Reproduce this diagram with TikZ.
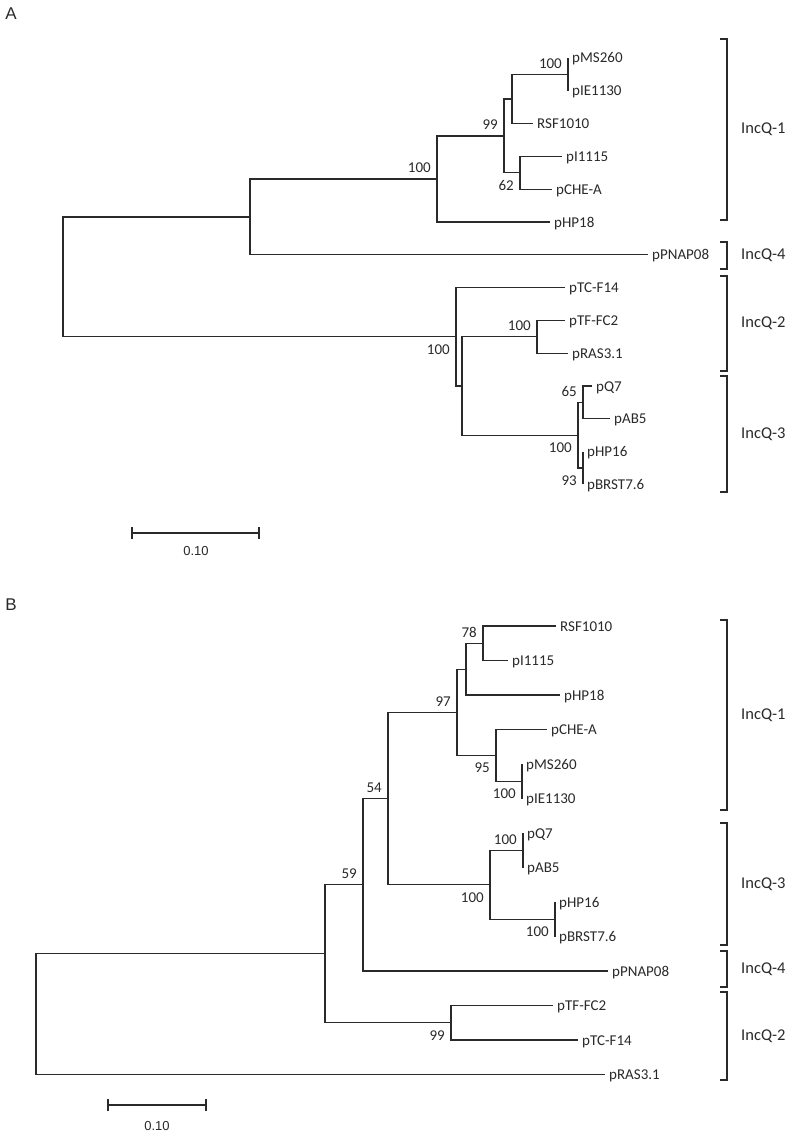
\documentclass[tikz,border=0pt]{standalone}
\usepackage{fontspec}
\setmainfont{Carlito}
\newfontfamily\panelfont{Liberation Sans}
\definecolor{ink}{HTML}{2A2A2A}
\begin{document}
\begin{tikzpicture}[x=1pt,y=-1pt,
  br/.style={draw=ink, line width=1.2pt, line join=miter},
  leaf/.style={anchor=base west, inner sep=0pt, xshift=4pt, yshift=-5pt, text=ink, font=\fontsize{15}{18}\selectfont},
  bsa/.style={anchor=base east, inner sep=0pt, xshift=-6pt, yshift=6pt, text=ink, font=\fontsize{15}{18}\selectfont},
  bsb/.style={anchor=base east, inner sep=0pt, xshift=-6pt, yshift=-17.5pt, text=ink, font=\fontsize{15}{18}\selectfont},
  grp/.style={anchor=west, inner sep=0pt, text=ink, font=\fontsize{16.5}{19}\selectfont},
  plab/.style={inner sep=0pt, text=ink, font=\panelfont\fontsize{17}{19}\selectfont},
  sclab/.style={inner sep=0pt, text=ink, font=\panelfont\fontsize{13}{16}\selectfont}]
\useasboundingbox (0,0) rectangle (797,1148);
\fill[white] (0,0) rectangle (797,1148);

% ================= Panel A =================
\node[plab] (A) at (11,14) {A};
% tips
\coordinate (aMS) at (568,58);
\coordinate (aIE) at (568,90.8);
\coordinate (aRSF) at (533,123.6);
\coordinate (aI) at (562,156.4);
\coordinate (aCHE) at (552,189.2);
\coordinate (aHP18) at (550,222);
\coordinate (aPN) at (648,254.8);
\coordinate (aTC) at (565,287.6);
\coordinate (aTF) at (565,320.4);
\coordinate (aRAS) at (568,353.2);
\coordinate (aQ7) at (592,386);
\coordinate (aAB5) at (610,418.8);
\coordinate (aHP16) at (583,451.6);
\coordinate (aBR) at (583,484.4);
% internal nodes
\coordinate (aN1) at (568,74.4);
\coordinate (aN2) at (512,99);
\coordinate (aN3) at (520,172.8);
\coordinate (aN4) at (504,135.9);
\coordinate (aN5) at (437,178.95);
\coordinate (aN6) at (250,216.9);
\coordinate (aN7) at (537,336.8);
\coordinate (aN8) at (583,402.4);
\coordinate (aN9) at (583,468);
\coordinate (aN10) at (578,435.2);
\coordinate (aN11) at (462,386);
\coordinate (aN12) at (456,336.8);
\coordinate (aRoot) at (63,276.85);
% branches
\draw[br] (aN1) |- (aMS) (aN1) |- (aIE);
\draw[br] (aN2) |- (aN1) (aN2) |- (aRSF);
\draw[br] (aN3) |- (aI) (aN3) |- (aCHE);
\draw[br] (aN4) |- (aN2) (aN4) |- (aN3);
\draw[br] (aN5) |- (aN4) (aN5) |- (aHP18);
\draw[br] (aN6) |- (aN5) (aN6) |- (aPN);
\draw[br] (aN7) |- (aTF) (aN7) |- (aRAS);
\draw[br] (aN8) |- (aQ7) (aN8) |- (aAB5);
\draw[br] (aN9) |- (aHP16) (aN9) |- (aBR);
\draw[br] (aN10) |- (aN8) (aN10) |- (aN9);
\draw[br] (aN11) |- (aN7) (aN11) |- (aN10);
\draw[br] (aN12) |- (aTC) (aN12) |- (aN11);
\draw[br] (aRoot) |- (aN6) (aRoot) |- (aN12);
% leaf labels
\node[leaf] (laMS) at (aMS) {pMS260};
\node[leaf] (laIE) at (aIE) {pIE1130};
\node[leaf] (laRSF) at (aRSF) {RSF1010};
\node[leaf] (laI) at (aI) {pI1115};
\node[leaf] (laCHE) at (aCHE) {pCHE-A};
\node[leaf] (laHP18) at (aHP18) {pHP18};
\node[leaf] (laPN) at (aPN) {pPNAP08};
\node[leaf] (laTC) at (aTC) {pTC-F14};
\node[leaf] (laTF) at (aTF) {pTF-FC2};
\node[leaf] (laRAS) at (aRAS) {pRAS3.1};
\node[leaf] (laQ7) at (aQ7) {pQ7};
\node[leaf] (laAB5) at (aAB5) {pAB5};
\node[leaf] (laHP16) at (aHP16) {pHP16};
\node[leaf] (laBR) at (aBR) {pBRST7.6};
% bootstrap values
\node[bsa] (baN1) at (aN1) {100};
\node[bsa] (baN4) at (aN4) {99};
\node[bsb] (baN3) at (aN3) {62};
\node[bsa] (baN5) at (aN5) {100};
\node[bsa] (baN7) at (aN7) {100};
\node[bsb] (baN12) at (aN12) {100};
\node[bsa] (baN8) at (aN8) {65};
\node[bsb] (baN10) at (aN10) {100};
\node[bsb] (baN9) at (aN9) {93};
% group brackets
\draw[br] (720,39) -- (727,39) -- (727,220) -- (720,220);
\node[grp] (gA1) at (741,129.5) {IncQ-1};
\draw[br] (720,242) -- (727,242) -- (727,269) -- (720,269);
\node[grp] (gA4) at (741,255.5) {IncQ-4};
\draw[br] (720,276) -- (727,276) -- (727,371) -- (720,371);
\node[grp] (gA2) at (741,323.5) {IncQ-2};
\draw[br] (720,376) -- (727,376) -- (727,492) -- (720,492);
\node[grp] (gA3) at (741,434) {IncQ-3};
% scale bar
\coordinate (sa1) at (132,533);
\coordinate (sa2) at (259,533);
\draw[br] (sa1) -- (sa2);
\draw[br] ([yshift=6pt]sa1) -- ([yshift=-6pt]sa1);
\draw[br] ([yshift=6pt]sa2) -- ([yshift=-6pt]sa2);
\node[sclab] (sca) at (196,551) {0.10};

% ================= Panel B =================
\node[plab] (B) at (11,605) {B};
\coordinate (bRSF) at (556,626);
\coordinate (bI) at (508,660.5);
\coordinate (bHP18) at (560,695);
\coordinate (bCHE) at (547,729.5);
\coordinate (bMS) at (522,764);
\coordinate (bIE) at (522,798.5);
\coordinate (bQ7) at (523,833);
\coordinate (bAB5) at (523,867.5);
\coordinate (bHP16) at (555,902);
\coordinate (bBR) at (555,936.5);
\coordinate (bPN) at (608,971);
\coordinate (bTF) at (553,1005.5);
\coordinate (bTC) at (578,1040);
\coordinate (bRAS) at (605,1074.5);
\coordinate (bN1) at (483,643.25);
\coordinate (bN2) at (466,669.125);
\coordinate (bN3) at (522,781.25);
\coordinate (bN4) at (496,755.375);
\coordinate (bN5) at (457,712.25);
\coordinate (bN6) at (523,850.25);
\coordinate (bN7) at (555,919.25);
\coordinate (bN8) at (490,884.75);
\coordinate (bN9) at (388,798.5);
\coordinate (bN10) at (363,884.75);
\coordinate (bN11) at (451,1022.75);
\coordinate (bN12) at (325,953.75);
\coordinate (bRoot) at (36,1014.125);
\draw[br] (bN1) |- (bRSF) (bN1) |- (bI);
\draw[br] (bN2) |- (bN1) (bN2) |- (bHP18);
\draw[br] (bN3) |- (bMS) (bN3) |- (bIE);
\draw[br] (bN4) |- (bCHE) (bN4) |- (bN3);
\draw[br] (bN5) |- (bN2) (bN5) |- (bN4);
\draw[br] (bN6) |- (bQ7) (bN6) |- (bAB5);
\draw[br] (bN7) |- (bHP16) (bN7) |- (bBR);
\draw[br] (bN8) |- (bN6) (bN8) |- (bN7);
\draw[br] (bN9) |- (bN5) (bN9) |- (bN8);
\draw[br] (bN10) |- (bN9) (bN10) |- (bPN);
\draw[br] (bN11) |- (bTF) (bN11) |- (bTC);
\draw[br] (bN12) |- (bN10) (bN12) |- (bN11);
\draw[br] (bRoot) |- (bN12) (bRoot) |- (bRAS);
\node[leaf] (lbRSF) at (bRSF) {RSF1010};
\node[leaf] (lbI) at (bI) {pI1115};
\node[leaf] (lbHP18) at (bHP18) {pHP18};
\node[leaf] (lbCHE) at (bCHE) {pCHE-A};
\node[leaf] (lbMS) at (bMS) {pMS260};
\node[leaf] (lbIE) at (bIE) {pIE1130};
\node[leaf] (lbQ7) at (bQ7) {pQ7};
\node[leaf] (lbAB5) at (bAB5) {pAB5};
\node[leaf] (lbHP16) at (bHP16) {pHP16};
\node[leaf] (lbBR) at (bBR) {pBRST7.6};
\node[leaf] (lbPN) at (bPN) {pPNAP08};
\node[leaf] (lbTF) at (bTF) {pTF-FC2};
\node[leaf] (lbTC) at (bTC) {pTC-F14};
\node[leaf] (lbRAS) at (bRAS) {pRAS3.1};
\node[bsa] (bbN1) at (bN1) {78};
\node[bsa] (bbN5) at (bN5) {97};
\node[bsb] (bbN4) at (bN4) {95};
\node[bsb] (bbN3) at (bN3) {100};
\node[bsa] (bbN9) at (bN9) {54};
\node[bsa] (bbN6) at (bN6) {100};
\node[bsb] (bbN8) at (bN8) {100};
\node[bsb] (bbN7) at (bN7) {100};
\node[bsa] (bbN10) at (bN10) {59};
\node[bsb] (bbN11) at (bN11) {99};
\draw[br] (720,620) -- (727,620) -- (727,810) -- (720,810);
\node[grp] (gB1) at (741,715) {IncQ-1};
\draw[br] (720,823) -- (727,823) -- (727,945) -- (720,945);
\node[grp] (gB3) at (741,884) {IncQ-3};
\draw[br] (720,951) -- (727,951) -- (727,987) -- (720,987);
\node[grp] (gB4) at (741,969) {IncQ-4};
\draw[br] (720,992) -- (727,992) -- (727,1080) -- (720,1080);
\node[grp] (gB2) at (741,1036) {IncQ-2};
\coordinate (sb1) at (108,1105);
\coordinate (sb2) at (206,1105);
\draw[br] (sb1) -- (sb2);
\draw[br] ([yshift=6pt]sb1) -- ([yshift=-6pt]sb1);
\draw[br] ([yshift=6pt]sb2) -- ([yshift=-6pt]sb2);
\node[sclab] (scb) at (157,1126) {0.10};
\end{tikzpicture}
\end{document}
